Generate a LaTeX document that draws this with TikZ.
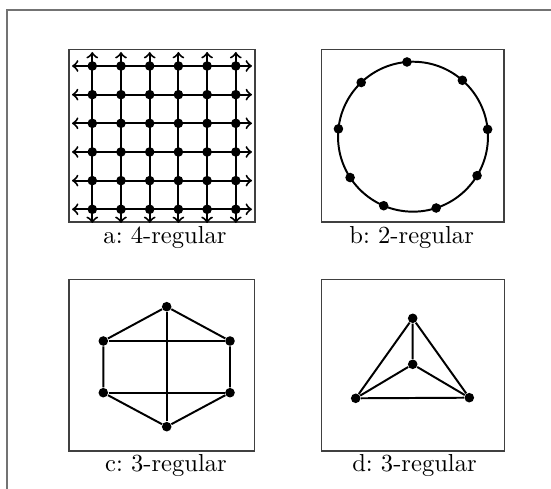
\documentclass[tikz,border=0pt]{standalone}
\usetikzlibrary{calc}

\begin{document}
\frenchspacing
\begin{tikzpicture}[
    x=0.01429cm, y=-0.01429cm,
    frame/.style={black!55, line width=0.45pt},
    panel/.style={black!75, line width=0.6pt},
    edge/.style={black, line width=0.8pt},
    dot/.style={circle, fill=black, inner sep=0pt, minimum size=3.9pt},
    captiontext/.style={inner sep=0pt, anchor=base}
]
\useasboundingbox (0,0) rectangle (551,489);

% ---------- outer frame ----------
\draw[frame] (7,489) -- (7,10) -- (551,10);

% ---------- panels ----------
\draw[panel] (69,49.3)    rectangle (255,222);
\draw[panel] (321.7,49.3) rectangle (504,222);
\draw[panel] (69,279.3)   rectangle (254.3,451);
\draw[panel] (321.7,279.3) rectangle (504.3,451);

% ---------- a: grid ----------
\foreach \i in {1,...,6} {
  \coordinate (aN-\i) at ({92.3+28.7*(\i-1)},52);
  \coordinate (aS-\i) at ({92.3+28.7*(\i-1)},223);
  \coordinate (aW-\i) at (72,{66+28.66*(\i-1)});
  \coordinate (aE-\i) at (252,{66+28.66*(\i-1)});
}
\foreach \i in {1,...,6} {
  \draw[edge, <->] (aW-\i) -- (aE-\i);
  \draw[edge, <->] (aN-\i) -- (aS-\i);
}
\foreach \i in {1,...,6}
  \foreach \j in {1,...,6}
    \node[dot] (a-\i-\j) at ({92.3+28.7*(\i-1)},{66+28.66*(\j-1)}) {};

% ---------- b: cycle ----------
\coordinate (bc) at (413,136.7);
\draw[edge] (bc) circle[radius=30.5pt];
\foreach \ang [count=\k] in {94.6,48.8,5.6,-31.3,-72,-113,-147,174,133.7}
  \node[dot] (b-\k) at ($(bc)+(\ang:30.5pt)$) {};

% ---------- c: prism ----------
\node[dot] (ct)  at (166.7,306.7) {};
\node[dot] (cul) at (103.3,341)   {};
\node[dot] (cur) at (230,341)     {};
\node[dot] (cll) at (103.3,392.7) {};
\node[dot] (clr) at (230,392.7)   {};
\node[dot] (cb)  at (166.7,426.7) {};
\draw[edge] (cul) -- (ct) -- (cur) -- (clr) -- (cb) -- (cll) -- (cul);
\draw[edge] (cul) -- (cur);
\draw[edge] (cll) -- (clr);
\draw[edge] (ct) -- (cb);

% ---------- d: tetrahedron ----------
\node[dot] (dt) at (412.7,318.3) {};
\node[dot] (dc) at (412.7,364.3) {};
\node[dot] (dl) at (355.7,398.3) {};
\node[dot] (dr) at (469.3,397.7) {};
\draw[edge] (dt) -- (dl) -- (dr) -- (dt) -- (dc);
\draw[edge] (dl) -- (dc) -- (dr);

% ---------- captions ----------
\node[captiontext] (capA) at (165,244)   {a: 4-regular};
\node[captiontext] (capB) at (411.7,244) {b: 2-regular};
\node[captiontext] (capC) at (166,472)   {c: 3-regular};
\node[captiontext] (capD) at (414.5,472) {d: 3-regular};

\end{tikzpicture}
\end{document}
